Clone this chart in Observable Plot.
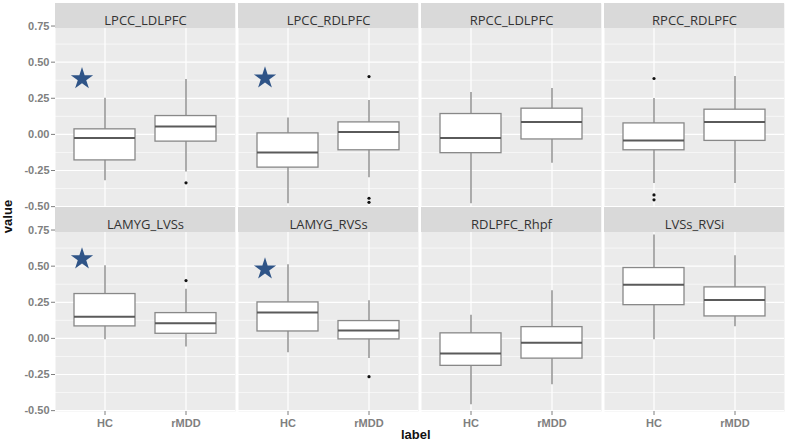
<!DOCTYPE html>
<html>
<head>
<meta charset="utf-8">
<script src="https://cdn.jsdelivr.net/npm/d3@7"></script>
<script src="https://cdn.jsdelivr.net/npm/@observablehq/plot@0.6"></script>
<style>
  html, body { margin: 0; padding: 0; background: #fff; }
  #wrap { position: relative; width: 787px; height: 443px; overflow: hidden; }
  #wrap svg { position: absolute; left: 0; top: 0; }
  .ttl { position: absolute; font-family: "Liberation Sans", Arial, sans-serif; font-weight: bold; font-size: 13px; color: #111; }
</style>
</head>
<body>
<div id="wrap"></div>
<script>
// ---- data ----
const panels = ["LPCC_LDLPFC", "LPCC_RDLPFC", "RPCC_LDLPFC", "RPCC_RDLPFC",
                "LAMYG_LVSs", "LAMYG_RVSs", "RDLPFC_Rhpf", "LVSs_RVSi"];
const groups = ["HC", "rMDD"];
// per panel: [HC, rMDD]
const whiskerLow  = [[-0.32, -0.26], [-0.48, -0.30], [-0.48, -0.20], [-0.34, -0.34],
                     [-0.01, -0.06], [-0.10, -0.14], [-0.46, -0.32], [-0.01, 0.08]];
const quartile1   = [[-0.18, -0.05], [-0.23, -0.11], [-0.13, -0.035], [-0.11, -0.045],
                     [0.083, 0.032], [0.048, -0.007], [-0.19, -0.14], [0.23, 0.152]];
const medians     = [[-0.025, 0.055], [-0.125, 0.016], [-0.025, 0.085], [-0.042, 0.085],
                     [0.15, 0.104], [0.18, 0.055], [-0.104, -0.03], [0.372, 0.265]];
const quartile3   = [[0.035, 0.127], [0.007, 0.083], [0.141, 0.178], [0.076, 0.171],
                     [0.307, 0.175], [0.249, 0.12], [0.035, 0.078], [0.487, 0.353]];
const whiskerHigh = [[0.25, 0.38], [0.113, 0.234], [0.29, 0.317], [0.248, 0.40],
                     [0.503, 0.34], [0.51, 0.261], [0.161, 0.33], [0.715, 0.572]];
const outlierPanel = ["LPCC_LDLPFC", "LPCC_RDLPFC", "LPCC_RDLPFC", "LPCC_RDLPFC",
                      "RPCC_RDLPFC", "RPCC_RDLPFC", "RPCC_RDLPFC", "LAMYG_LVSs", "LAMYG_RVSs"];
const outlierGroup = ["rMDD", "rMDD", "rMDD", "rMDD", "HC", "HC", "HC", "rMDD", "rMDD"];
const outlierValue = [-0.335, 0.40, -0.442, -0.47, 0.387, -0.419, -0.453, 0.40, -0.265];
const starPanels = ["LPCC_LDLPFC", "LPCC_RDLPFC", "LAMYG_LVSs", "LAMYG_RVSs"];
const starValues = [0.385, 0.39, 0.55, 0.48];
const majorTicks = [-0.5, -0.25, 0, 0.25, 0.5, 0.75];
const minorTicks = [-0.375, -0.125, 0.125, 0.375, 0.625];

// ---- layout constants ----
const yDomain = [-0.506, 0.906];
const stripBottom = 0.733;

const col = p => panels.indexOf(p) % 4;
const row = p => Math.floor(panels.indexOf(p) / 4);

const panelRows = panels.map(p => ({panel: p}));
const boxes = [];
panels.forEach((p, i) => groups.forEach((g, j) => boxes.push({
  panel: p, group: g,
  lo: whiskerLow[i][j], q1: quartile1[i][j], med: medians[i][j],
  q3: quartile3[i][j], hi: whiskerHigh[i][j]
})));
const outliers = outlierValue.map((v, i) => ({panel: outlierPanel[i], group: outlierGroup[i], value: v}));
const stars = starPanels.map((p, i) => ({panel: p, group: "HC", value: starValues[i]}));

const F = {fx: d => col(d.panel), fy: d => row(d.panel)};

const chart = Plot.plot({
  width: 787,
  height: 443,
  marginLeft: 53,
  marginRight: 2,
  marginTop: 3,
  marginBottom: 32,
  style: {fontFamily: "Liberation Sans, Arial, sans-serif", fontSize: "10px", background: "transparent"},
  fx: {axis: null, paddingInner: 0.018, paddingOuter: 0},
  fy: {axis: null, paddingInner: 0, paddingOuter: 0},
  x: {domain: groups, paddingInner: 0.252, paddingOuter: 0.226},
  y: {domain: yDomain},
  marks: [
    Plot.frame({fill: "#ebebeb", stroke: null}),
    Plot.ruleY(minorTicks, {stroke: "white", strokeWidth: 0.6}),
    Plot.ruleY(majorTicks, {stroke: "white", strokeWidth: 1.2}),
    Plot.ruleX(groups, {x: d => d, stroke: "white", strokeWidth: 1.2}),
    Plot.rect(panelRows, {...F, y1: stripBottom, y2: yDomain[1], fill: "#d9d9d9"}),
    Plot.text(panelRows, {...F, text: "panel", frameAnchor: "top", dy: 12.5,
      fontFamily: "Open Sans, sans-serif", fontSize: 13, fill: "#333"}),
    Plot.ruleX(boxes, {...F, x: "group", y1: "lo", y2: "hi", stroke: "#777", strokeWidth: 1.2}),
    Plot.barY(boxes, {...F, x: "group", y1: "q1", y2: "q3", fill: "white", stroke: "#888", strokeWidth: 1.3}),
    Plot.tickY(boxes, {...F, x: "group", y: "med", stroke: "#5a5a5a", strokeWidth: 2}),
    Plot.dot(outliers, {...F, x: "group", y: "value", r: 1.6, fill: "#111", stroke: null}),
    Plot.dot(stars, {...F, x: "group", y: "value", symbol: "star", r: 7, fill: "#2f5487", stroke: null, dx: -23}),
    Plot.axisY({ticks: majorTicks, tickFormat: d => d.toFixed(2), anchor: "left", label: null,
      color: "#7f7f7f", fontWeight: "bold", fontSize: 11, tickSize: 4, tickPadding: 2}),
    Plot.axisX({anchor: "bottom", label: null, color: "#7f7f7f", fontWeight: "bold",
      fontSize: 11, tickSize: 4, tickPadding: 4})
  ]
});

const wrap = document.getElementById("wrap");
wrap.appendChild(chart);

const yTitle = document.createElement("div");
yTitle.className = "ttl";
yTitle.textContent = "value";
yTitle.style.left = "-9px";
yTitle.style.top = "209px";
yTitle.style.transform = "rotate(-90deg)";
wrap.appendChild(yTitle);

const xTitle = document.createElement("div");
xTitle.className = "ttl";
xTitle.textContent = "label";
xTitle.style.left = "401px";
xTitle.style.top = "427px";
wrap.appendChild(xTitle);
</script>
</body>
</html>
